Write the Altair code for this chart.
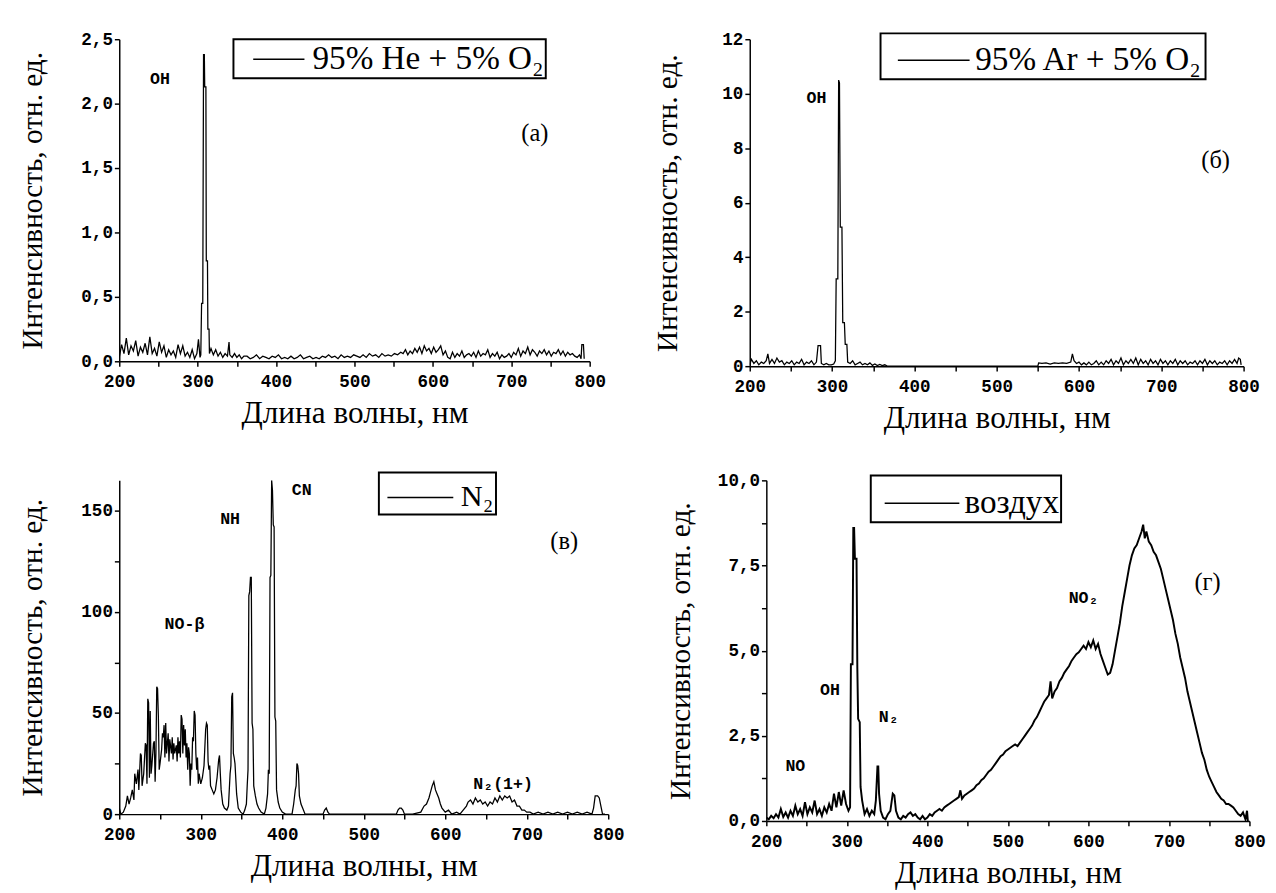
import altair as alt
import pandas as pd

SERIF = "Liberation Serif"
MONO = "Liberation Mono"

# ---------------- data (wavelength nm, intensity) ----------------
spec_a = [
    (200, 0.03), (203, 0.13), (206, 0.06), (209, 0.18), (212, 0.05), (215, 0.12), (218, 0.08), (221, 0.16),
    (224, 0.04), (227, 0.11), (230, 0.07), (233, 0.14), (236, 0.05), (239, 0.19), (242, 0.06), (245, 0.10),
    (248, 0.04), (251, 0.15), (254, 0.07), (257, 0.12), (260, 0.03), (263, 0.09), (266, 0.05), (269, 0.08),
    (272, 0.03), (275, 0.13), (278, 0.06), (281, 0.12), (284, 0.04), (287, 0.07), (290, 0.03), (293, 0.09),
    (296, 0.02), (299, 0.06), (301, 0.17), (303, 0.03), (304, 0.05), (305, 0.45), (306.5, 0.45), (307.5, 2.38),
    (308.5, 2.38), (309, 2.13), (310.5, 2.13), (311, 0.78), (312.5, 0.78), (313, 0.25), (314.5, 0.25), (315, 0.06),
    (317, 0.10), (320, 0.05), (323, 0.09), (326, 0.04), (329, 0.07), (332, 0.03), (335, 0.06), (338, 0.04),
    (341, 0.05), (344, 0.03), (347, 0.06), (340, 0.15), (350, 0.03), (353, 0.05), (356, 0.02), (359, 0.04),
    (363, 0.04), (367, 0.02), (371, 0.03), (375, 0.05), (379, 0.02), (383, 0.04), (387, 0.03), (391, 0.02),
    (395, 0.04), (399, 0.03), (403, 0.05), (407, 0.02), (411, 0.03), (415, 0.02), (419, 0.04), (423, 0.02),
    (427, 0.03), (431, 0.05), (435, 0.02), (439, 0.03), (443, 0.04), (447, 0.02), (451, 0.03), (455, 0.02),
    (459, 0.04), (463, 0.03), (467, 0.05), (471, 0.03), (475, 0.04), (479, 0.02), (483, 0.05), (487, 0.03),
    (491, 0.04), (495, 0.03), (499, 0.05), (503, 0.04), (507, 0.03), (511, 0.05), (515, 0.03), (519, 0.06),
    (523, 0.04), (527, 0.05), (531, 0.03), (535, 0.06), (539, 0.04), (543, 0.05), (547, 0.04), (551, 0.06),
    (555, 0.05), (559, 0.07), (562, 0.06), (565, 0.09), (568, 0.05), (571, 0.08), (574, 0.06), (577, 0.10),
    (580, 0.07), (583, 0.11), (586, 0.06), (589, 0.12), (592, 0.08), (595, 0.10), (598, 0.06), (601, 0.11),
    (604, 0.07), (607, 0.09), (610, 0.12), (613, 0.05), (616, 0.08), (619, 0.03), (622, 0.02), (625, 0.07),
    (628, 0.03), (631, 0.06), (634, 0.04), (637, 0.08), (640, 0.03), (643, 0.05), (646, 0.06), (649, 0.04),
    (652, 0.07), (655, 0.03), (658, 0.08), (661, 0.04), (664, 0.06), (667, 0.05), (670, 0.09), (673, 0.03),
    (676, 0.06), (679, 0.04), (682, 0.07), (685, 0.02), (688, 0.05), (691, 0.03), (694, 0.04), (697, 0.06),
    (700, 0.03), (703, 0.07), (706, 0.05), (709, 0.10), (712, 0.04), (715, 0.08), (718, 0.06), (721, 0.11),
    (724, 0.05), (727, 0.09), (730, 0.07), (733, 0.04), (736, 0.08), (739, 0.06), (742, 0.09), (745, 0.05),
    (748, 0.08), (751, 0.04), (754, 0.07), (757, 0.06), (760, 0.09), (763, 0.05), (766, 0.08), (769, 0.04),
    (772, 0.07), (775, 0.05), (778, 0.06), (781, 0.04), (784, 0.03), (787, 0.05), (789, 0.02), (790, 0.13),
    (792, 0.13), (793, 0.02),
]

spec_b = [
    (200, 0.05), (202, 0.25), (205, 0.10), (208, 0.20), (211, 0.05), (214, 0.15), (217, 0.10), (220, 0.20),
    (222, 0.45), (224, 0.10), (227, 0.25), (230, 0.10), (233, 0.30), (236, 0.15), (239, 0.20), (242, 0.05),
    (245, 0.15), (248, 0.10), (251, 0.20), (254, 0.05), (257, 0.15), (260, 0.10), (263, 0.25), (266, 0.05),
    (269, 0.15), (272, 0.10), (275, 0.20), (278, 0.05), (281, 0.15), (283, 0.75), (286, 0.75), (287, 0.10),
    (290, 0.05), (293, 0.10), (296, 0.05), (299, 0.05), (302, 0.08), (304, 0.20), (305, 3.20), (307, 3.20),
    (308, 10.5), (309, 10.4), (310, 5.10), (312, 5.10), (313, 1.60), (315, 1.60), (316, 0.80), (318, 0.80),
    (319, 0.15), (322, 0.10), (325, 0.20), (328, 0.05), (331, 0.10), (334, 0.15), (337, 0.05), (340, 0.10),
    (343, 0.05), (346, 0.12), (349, 0.03), (352, 0.08), (355, 0.02), (358, 0.06), (361, 0.02), (364, 0.05),
    (367, 0.00), (550, 0.00), (551, 0.12), (555, 0.10), (560, 0.12), (565, 0.08), (570, 0.12), (575, 0.10),
    (580, 0.12), (585, 0.10), (590, 0.15), (592, 0.45), (594, 0.20), (597, 0.10), (600, 0.15), (603, 0.05),
    (606, 0.12), (609, 0.05), (612, 0.15), (615, 0.05), (618, 0.10), (621, 0.20), (624, 0.05), (627, 0.15),
    (630, 0.05), (633, 0.20), (636, 0.10), (639, 0.25), (642, 0.05), (645, 0.20), (648, 0.10), (651, 0.30),
    (654, 0.05), (657, 0.20), (660, 0.10), (663, 0.25), (666, 0.10), (669, 0.30), (672, 0.05), (675, 0.25),
    (678, 0.10), (681, 0.20), (684, 0.05), (687, 0.25), (690, 0.10), (693, 0.20), (696, 0.05), (699, 0.25),
    (702, 0.10), (705, 0.20), (708, 0.05), (711, 0.20), (714, 0.10), (717, 0.25), (720, 0.05), (723, 0.20),
    (726, 0.10), (729, 0.20), (732, 0.05), (735, 0.15), (738, 0.10), (741, 0.20), (744, 0.05), (747, 0.20),
    (750, 0.10), (753, 0.25), (756, 0.05), (759, 0.20), (762, 0.10), (765, 0.20), (768, 0.05), (771, 0.15),
    (774, 0.10), (777, 0.20), (780, 0.05), (783, 0.20), (786, 0.10), (789, 0.25), (792, 0.10), (794, 0.30),
    (796, 0.25), (797, 0.05),
]

spec_c = [
    (200, 3), (202, 0), (205, 1), (208, 4), (210, 9), (212, 5), (214, 8), (216, 12), (218, 7), (219, 20),
    (221, 15), (223, 22), (224, 12), (226, 30), (227, 29), (228, 14), (230, 20), (232, 35), (233, 34), (234, 15),
    (235, 57), (236, 55), (237, 18), (238, 51), (239, 20), (240, 24), (242, 35), (243, 36), (244, 16), (245, 30),
    (246, 63), (247, 62), (248, 48), (249, 22), (250, 25), (252, 32), (253, 40), (254, 38), (255, 44), (256, 28),
    (257, 45), (258, 30), (260, 40), (261, 26), (262, 37), (264, 30), (265, 38), (266, 27), (267, 35), (268, 30),
    (270, 34), (271, 26), (272, 38), (273, 30), (274, 36), (275, 28), (276, 49), (277, 47), (278, 30), (279, 44),
    (280, 34), (281, 42), (282, 28), (283, 35), (284, 22), (285, 33), (286, 30), (287, 14), (288, 25), (289, 22),
    (290, 38), (291, 36), (292, 51), (293, 49), (294, 30), (295, 22), (296, 28), (297, 15), (298, 20), (300, 15),
    (302, 18), (304, 24), (306, 42), (307, 45), (308, 44), (309, 26), (310, 22), (311, 24), (312, 14), (314, 12),
    (316, 10), (318, 12), (320, 18), (322, 27), (323, 29), (324, 20), (325, 12), (327, 5), (329, 3), (332, 2),
    (334, 4), (336, 20), (337, 24), (338, 58), (339, 60), (340, 30), (341, 28), (342, 25), (344, 10), (346, 3),
    (349, 1), (352, 0), (354, 2), (356, 5), (357, 14), (358, 22), (359, 108), (360, 110), (361, 117), (362, 117),
    (363, 45), (364, 42), (365, 14), (367, 9), (369, 5), (371, 3), (374, 1), (378, 0), (380, 3), (382, 10),
    (383, 22), (384, 20), (385, 117), (386, 118), (387, 165), (388, 160), (389, 143), (390, 142), (391, 48),
    (392, 46), (393, 12), (395, 6), (397, 3), (400, 1), (404, 0), (412, 0), (414, 5), (416, 12), (417, 14),
    (418, 25), (419, 24), (420, 20), (421, 9), (423, 5), (425, 3), (428, 0), (450, 0), (452, 2), (454, 3),
    (456, 1), (458, 0), (540, 0), (542, 2), (544, 3), (546, 3), (548, 2), (550, 0), (556, 0), (560, 0),
    (570, 1), (574, 4), (577, 5), (580, 8), (582, 11), (584, 14), (586, 16), (588, 12), (590, 10), (592, 8),
    (594, 5), (596, 3), (600, 1), (604, 2), (608, 0), (614, 1), (618, 0), (622, 2), (626, 4), (628, 6),
    (631, 7), (634, 5), (637, 8), (640, 6), (643, 7), (646, 5), (649, 6), (652, 4), (655, 6), (658, 5),
    (661, 8), (664, 6), (667, 9), (670, 7), (673, 9), (676, 8), (679, 9), (682, 6), (685, 7), (688, 4),
    (691, 4), (694, 2), (697, 2), (700, 1), (704, 1), (708, 0), (714, 1), (720, 0), (726, 1), (732, 0),
    (738, 1), (744, 0), (750, 1), (756, 0), (762, 1), (768, 0), (774, 1), (780, 0), (782, 3), (784, 9),
    (787, 9), (789, 8), (791, 4), (793, 0), (796, 0),
]

spec_d = [
    (200, 0.10), (203, 0.05), (206, 0.15), (209, 0.08), (212, 0.20), (215, 0.10), (218, 0.35), (221, 0.12),
    (224, 0.25), (227, 0.10), (230, 0.30), (233, 0.15), (236, 0.45), (239, 0.20), (242, 0.35), (245, 0.15),
    (248, 0.55), (251, 0.20), (254, 0.40), (257, 0.25), (260, 0.60), (263, 0.20), (266, 0.35), (269, 0.15),
    (272, 0.40), (275, 0.25), (278, 0.50), (281, 0.30), (284, 0.80), (287, 0.40), (290, 0.85), (293, 0.45),
    (296, 0.90), (299, 0.50), (302, 0.30), (304, 0.40), (305, 4.60), (307, 4.60), (308, 8.60), (309, 8.60),
    (310, 7.70), (312, 7.70), (313, 4.50), (314, 3.00), (316, 2.90), (317, 1.00), (319, 0.60), (322, 0.20),
    (325, 0.35), (328, 0.15), (331, 0.30), (334, 0.20), (336, 0.60), (338, 1.60), (339, 1.60), (340, 0.80),
    (342, 0.30), (345, 0.10), (348, 0.05), (351, 0.20), (354, 0.30), (357, 0.80), (359, 0.75), (361, 0.30),
    (364, 0.10), (367, 0.05), (370, 0.15), (373, 0.10), (376, 0.20), (379, 0.25), (382, 0.15), (385, 0.20),
    (388, 0.10), (391, 0.05), (394, 0.15), (397, 0.05), (400, 0.10), (403, 0.20), (406, 0.15), (409, 0.25),
    (412, 0.30), (415, 0.35), (418, 0.30), (421, 0.40), (424, 0.45), (427, 0.50), (430, 0.55), (433, 0.60),
    (436, 0.65), (439, 0.70), (441, 0.90), (443, 0.65), (446, 0.75), (449, 0.80), (452, 0.85), (455, 0.90),
    (458, 0.95), (461, 1.05), (464, 1.10), (467, 1.20), (470, 1.25), (473, 1.35), (476, 1.45), (479, 1.50),
    (482, 1.60), (485, 1.70), (488, 1.80), (491, 1.90), (494, 1.95), (497, 2.05), (500, 2.10), (503, 2.15),
    (506, 2.20), (509, 2.25), (512, 2.20), (515, 2.30), (518, 2.40), (521, 2.50), (524, 2.60), (527, 2.70),
    (530, 2.80), (533, 2.95), (536, 3.05), (539, 3.20), (542, 3.35), (545, 3.50), (548, 3.60), (551, 3.70),
    (553, 4.10), (555, 3.60), (558, 3.80), (561, 3.90), (564, 4.10), (567, 4.20), (570, 4.35), (573, 4.45),
    (576, 4.55), (579, 4.70), (582, 4.80), (585, 4.90), (588, 4.95), (591, 5.05), (594, 5.15), (597, 5.05),
    (600, 5.25), (603, 5.10), (606, 5.30), (609, 5.05), (612, 5.20), (615, 4.90), (618, 4.70), (621, 4.50),
    (624, 4.30), (627, 4.35), (630, 4.60), (633, 5.00), (636, 5.40), (639, 5.80), (642, 6.30), (645, 6.70),
    (648, 7.10), (651, 7.50), (654, 7.80), (657, 8.00), (660, 8.10), (663, 8.30), (666, 8.50), (668, 8.70),
    (670, 8.30), (672, 8.50), (675, 8.20), (678, 8.10), (681, 7.90), (684, 7.80), (687, 7.60), (690, 7.40),
    (693, 7.10), (696, 6.80), (699, 6.50), (702, 6.20), (705, 5.90), (708, 5.50), (711, 5.20), (714, 4.80),
    (717, 4.50), (720, 4.20), (723, 3.80), (726, 3.50), (729, 3.20), (732, 2.90), (735, 2.60), (738, 2.30),
    (741, 2.00), (744, 1.80), (747, 1.50), (750, 1.30), (753, 1.15), (756, 1.00), (759, 0.85), (762, 0.75),
    (765, 0.65), (768, 0.60), (771, 0.50), (774, 0.50), (777, 0.45), (780, 0.40), (783, 0.30), (786, 0.20),
    (789, 0.15), (792, 0.25), (795, 0.05), (797, 0.30), (798, 0.00),
]

series_names = ["95% He + 5% O\u2082", "95% Ar + 5% O\u2082", "N\u2082", "воздух"]

labels_a = [(252, 2.19, "OH")]
labels_b = [(281, 9.85, "OH")]
labels_c = [(424, 160, "CN"), (336, 146, "NH"), (280, 94, "NO-\u03b2"), (671, 15, "N\u2082(1+)")]
labels_d = [(236, 1.6, "NO"), (279, 3.85, "OH"), (352, 3.05, "N\u2082"), (594, 6.55, "NO\u2082")]

panel_tags = [(730, 1.77, "(а)"), (766, 7.55, "(б)"), (746, 135, "(в)"), (748, 7.0, "(г)")]

x_ticks = [200, 250, 300, 350, 400, 450, 500, 550, 600, 650, 700, 750, 800]
y_ticks_a = [0, 0.25, 0.5, 0.75, 1.0, 1.25, 1.5, 1.75, 2.0, 2.25, 2.5]
y_ticks_b = [0, 1, 2, 3, 4, 5, 6, 7, 8, 9, 10, 11, 12]
y_ticks_c = [0, 25, 50, 75, 100, 125, 150]
y_ticks_d = [0, 1.25, 2.5, 3.75, 5.0, 6.25, 7.5, 8.75, 10.0]

X_TITLE = "Длина волны, нм"
Y_TITLE = "Интенсивность, отн. ед."

LEG_PATH = "M-1.5,0L1.5,0"


def panel(spec, name, ydom, yticks, ylabel_expr, w, h, labels, tag, leg, ypad, stroke=1.3):
    df = pd.DataFrame(spec, columns=["wl", "I"]).sort_values("wl")
    df["series"] = name
    xenc = alt.X("wl:Q", scale=alt.Scale(domain=[200, 800], nice=False, zero=False),
                 axis=alt.Axis(values=x_ticks, labelExpr="datum.value % 100 == 0 ? datum.label : ''",
                               title=X_TITLE, titlePadding=8, labelPadding=7))
    yenc = alt.Y("I:Q", scale=alt.Scale(domain=ydom, nice=False, zero=False),
                 axis=alt.Axis(values=yticks, labelExpr=ylabel_expr, title=Y_TITLE, titlePadding=ypad))
    line = alt.Chart(df).mark_line(strokeWidth=stroke, clip=True, interpolate="linear").encode(
        x=xenc, y=yenc,
        color=alt.Color("series:N", scale=alt.Scale(domain=[name], range=["black"]),
                        legend=alt.Legend(title=None, orient="none", legendX=leg["x"], legendY=leg["y"],
                                          symbolType=LEG_PATH, symbolSize=leg["sym"] ** 2,
                                          symbolStrokeWidth=1.6, symbolOffset=leg["so"],
                                          labelFont=SERIF, labelFontSize=leg["fs"], labelLimit=500,
                                          labelColor="black", labelOffset=leg["off"], padding=leg["pad"],
                                          strokeColor="black", fillColor="white")))
    ldf = pd.DataFrame(labels, columns=["wl", "I", "t"])
    txt = alt.Chart(ldf).mark_text(font=MONO, fontSize=17, fontWeight="bold", color="black").encode(
        x="wl:Q", y="I:Q", text="t:N")
    tdf = pd.DataFrame([tag], columns=["wl", "I", "t"])
    tg = alt.Chart(tdf).mark_text(font=SERIF, fontSize=25, color="black").encode(
        x="wl:Q", y="I:Q", text="t:N")
    return alt.layer(line, txt, tg).properties(width=w, height=h)


dec_a = "datum.value * 2 % 1 == 0 ? replace(format(datum.value, '.1f'), '.', ',') : ''"
int_b = "datum.value % 2 == 0 ? datum.label : ''"
int_c = "datum.value % 50 == 0 ? datum.label : ''"
dec_d = "datum.value / 2.5 % 1 == 0 ? replace(format(datum.value, '.1f'), '.', ',') : ''"

pa = panel(spec_a, series_names[0], [0, 2.5], y_ticks_a, dec_a, 482, 330, labels_a, panel_tags[0],
           dict(x=117, y=0, sym=35, so=26, fs=34, off=16, pad=2), 34)
pb = panel(spec_b, series_names[1], [0, 12], y_ticks_b, int_b, 506, 335, labels_b, panel_tags[1],
           dict(x=134, y=-6, sym=49, so=27, fs=34, off=17, pad=2), 40)
pc = panel(spec_c, series_names[2], [0, 165], y_ticks_c, int_c, 501, 342, labels_c, panel_tags[2],
           dict(x=266, y=-8, sym=45, so=17, fs=31, off=18, pad=2), 34)
pd_ = panel(spec_d, series_names[3], [0, 10], y_ticks_d, dec_d, 495, 349, labels_d, panel_tags[3],
            dict(x=107, y=-5, sym=51, so=24, fs=34, off=17, pad=2), 23, stroke=2.0)

top = alt.hconcat(pa, pb, spacing=164, bounds="flush").resolve_scale(
    color="independent").resolve_legend(color="independent")
bottom = alt.hconcat(pc, pd_, spacing=162, bounds="flush").resolve_scale(
    color="independent").resolve_legend(color="independent")

chart = alt.vconcat(top, bottom, spacing=39).resolve_scale(
    color="independent").resolve_legend(color="independent").properties(
    padding={"left": 10, "top": 12, "right": 2, "bottom": 2}
).configure_view(stroke=None).configure_axis(
    grid=False, domainColor="black", domainWidth=1.5, tickColor="black", tickWidth=1.5, tickSize=5,
    labelFont=MONO, labelFontSize=18, labelFontWeight="bold", labelColor="black", labelPadding=2,
    labelFlush=False, labelOverlap=False,
    titleFont=SERIF, titleFontSize=30, titleFontWeight="normal", titleColor="black"
).configure_axisX(titleFontSize=32).configure_legend(strokeWidth=2)

chart.save("out.html", embed_options={"renderer": "svg", "actions": False})
